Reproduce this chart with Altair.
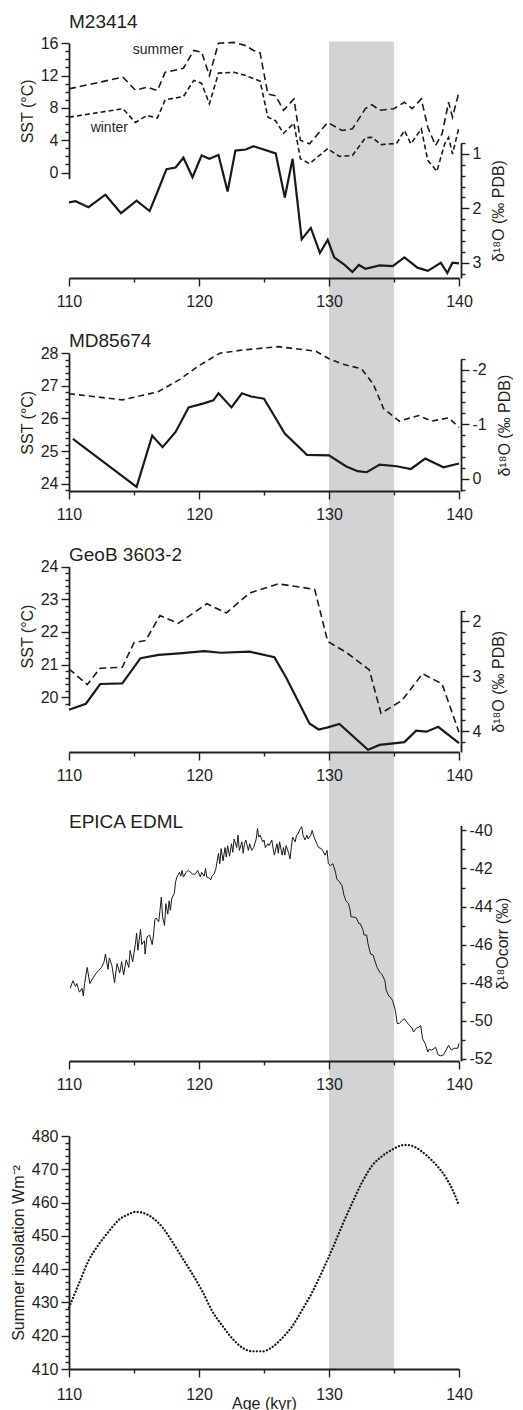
import altair as alt
import pandas as pd

# ---------------- data ----------------
X_TICKS = [110, 115, 120, 125, 130, 135, 140]
BAND = [130, 135]

# M23414
P1_SUMMER_AGE = [110.0, 114.15, 115.1, 116.0, 116.8, 117.4, 118.8, 119.6, 120.2, 120.8, 121.5, 122.7, 123.6,
                 124.2, 124.7, 125.3, 125.9, 126.5, 127.3, 127.8, 128.5, 129.9, 131.0, 131.8, 132.8, 133.3,
                 133.9, 135.0, 135.8, 136.4, 137.1, 137.6, 138.2, 138.7, 139.2, 139.5, 140.0]
P1_SUMMER_SST = [10.35, 11.8, 10.2, 10.55, 10.15, 12.4, 12.9, 15.1, 14.9, 12.0, 16.0, 16.1, 15.7,
                 15.1, 14.8, 9.7, 9.5, 7.7, 9.1, 4.0, 3.55, 6.2, 5.2, 5.4, 7.9, 8.4,
                 7.7, 7.9, 8.7, 7.9, 9.1, 5.6, 3.35, 4.8, 8.7, 6.85, 9.95]
P1_WINTER_AGE = [110.0, 114.15, 115.1, 116.0, 116.8, 117.4, 118.8, 119.6, 120.2, 120.8, 121.5, 122.7, 123.6,
                 124.7, 125.3, 125.9, 126.5, 127.3, 127.8, 128.5, 129.9, 130.8, 131.8, 132.8, 133.3, 134.0,
                 135.2, 135.8, 136.3, 137.1, 137.6, 138.3, 138.9, 139.2, 139.5, 140.0]
P1_WINTER_SST = [6.85, 7.9, 6.2, 7.05, 6.75, 9.0, 9.4, 11.4, 11.05, 8.5, 12.3, 12.4, 12.0,
                 11.3, 6.85, 6.4, 4.85, 6.1, 1.7, 1.1, 2.95, 2.0, 2.1, 4.3, 4.35, 3.45,
                 3.6, 5.2, 3.55, 5.4, 1.5, 0.15, 3.55, 4.35, 2.3, 5.6]
P1_D18O_AGE = [110.0, 110.5, 111.5, 112.8, 114.0, 115.2, 116.2, 116.8, 117.5, 118.2, 118.8, 119.5, 120.2,
               120.8, 121.5, 122.2, 122.8, 123.6, 124.2, 125.9, 126.6, 127.2, 127.9, 128.6, 129.3, 129.9,
               130.4, 131.2, 131.8, 132.3, 132.8, 133.9, 134.9, 135.8, 136.8, 137.6, 138.6, 139.1, 139.5, 140.0]
P1_D18O = [1.89, 1.87, 1.98, 1.75, 2.09, 1.86, 2.05, 1.70, 1.28, 1.25, 1.07, 1.43, 1.03,
           1.09, 1.02, 1.69, 0.94, 0.92, 0.86, 0.99, 1.80, 1.09, 2.57, 2.36, 2.82, 2.58,
           2.90, 3.04, 3.17, 3.04, 3.11, 3.05, 3.06, 2.90, 3.09, 3.15, 3.0, 3.19, 3.0, 3.01]
P1_LABELS = ["summer", "winter"]
P1_LABEL_AGE = [116.85, 113.1]
P1_LABEL_SST = [15.2, 5.57]

# MD85674
P2_SST_AGE = [110.0, 114.1, 116.8, 118.5, 120.0, 121.6, 123.4, 126.1, 129.0, 130.0, 131.1, 132.5, 133.4,
              134.2, 135.4, 136.9, 137.9, 139.2, 140.0]
P2_SST = [26.76, 26.57, 26.81, 27.19, 27.62, 28.0, 28.1, 28.2, 28.06, 27.83, 27.66, 27.52, 27.06,
          26.30, 25.92, 26.09, 25.92, 26.02, 25.73]
P2_D18O_AGE = [110.3, 115.2, 116.4, 117.2, 118.2, 119.2, 120.3, 121.1, 121.5, 122.5, 123.3, 124.0, 125.0,
               126.6, 128.3, 130.0, 131.3, 132.2, 132.9, 133.9, 135.2, 136.3, 137.4, 138.8, 140.0]
P2_D18O = [-0.73, 0.15, -0.79, -0.58, -0.86, -1.31, -1.38, -1.44, -1.57, -1.31, -1.57, -1.51, -1.47,
           -0.83, -0.44, -0.43, -0.23, -0.14, -0.12, -0.26, -0.23, -0.18, -0.37, -0.21, -0.28]

# GeoB 3603-2
P3_SST_AGE = [110.0, 111.4, 112.4, 114.1, 115.0, 115.9, 117.0, 118.4, 120.6, 122.1, 123.9, 126.1, 128.9,
              129.9, 131.3, 133.1, 134.0, 135.6, 137.2, 138.7, 140.0]
P3_SST = [20.87, 20.39, 20.89, 20.92, 21.67, 21.74, 22.5, 22.26, 22.86, 22.58, 23.19, 23.47, 23.30,
          21.71, 21.38, 20.84, 19.51, 19.9, 20.72, 20.41, 18.93]
P3_D18O_AGE = [110.0, 111.3, 112.4, 114.1, 115.5, 116.9, 118.5, 120.4, 121.7, 123.9, 125.8, 126.7, 128.5,
               129.2, 129.9, 130.8, 133.0, 133.9, 135.8, 136.7, 137.5, 138.4, 140.0]
P3_D18O = [3.61, 3.50, 3.14, 3.13, 2.67, 2.61, 2.58, 2.54, 2.57, 2.55, 2.65, 3.02, 3.86,
           3.97, 3.93, 3.87, 4.34, 4.25, 4.20, 3.99, 4.01, 3.92, 4.22]

# EPICA EDML
EDML_AGE = [110.1, 110.3, 110.5, 110.6, 110.8, 111.0, 111.1, 111.2, 111.4, 111.6, 111.8, 112.1, 112.3,
            112.5, 112.7, 112.8, 113.0, 113.1, 113.3, 113.5, 113.7, 113.9, 114.05, 114.2, 114.4, 114.6,
            114.7, 114.9, 115.1, 115.2, 115.3, 115.5, 115.6, 115.8, 115.85, 116.0, 116.2, 116.4, 116.5,
            116.6, 116.7, 116.9, 117.0, 117.1, 117.2, 117.35, 117.45, 117.6, 117.7, 117.8, 117.9, 118.1,
            118.2, 118.3, 118.5, 118.6, 118.7, 118.8, 119.0, 119.2, 119.5, 119.7, 119.9, 120.1, 120.2,
            120.4, 120.5, 120.6, 120.8, 120.9, 121.0, 121.15, 121.3, 121.4, 121.5, 121.6, 121.7, 121.85,
            122.0, 122.1, 122.2, 122.35, 122.5, 122.6, 122.7, 122.9, 123.0, 123.1, 123.3, 123.4, 123.5,
            123.6, 123.8, 123.9, 124.05, 124.2, 124.4, 124.5, 124.6, 124.7, 124.9, 125.0, 125.1, 125.3,
            125.4, 125.6, 125.7, 125.8, 126.0, 126.1, 126.2, 126.4, 126.5, 126.6, 126.7, 126.9, 127.0,
            127.1, 127.2, 127.4, 127.5, 127.6, 127.8, 127.9, 128.0, 128.15, 128.3, 128.4, 128.6, 128.7,
            128.85, 129.0, 129.2, 129.4, 129.5, 129.7, 129.85, 129.95, 130.1, 130.3, 130.5, 130.6, 130.8,
            131.0, 131.15, 131.3, 131.5, 131.6, 131.7, 131.9, 132.1, 132.3, 132.4, 132.6, 132.7, 132.9,
            133.0, 133.2, 133.4, 133.5, 133.7, 133.9, 134.1, 134.3, 134.4, 134.6, 134.7, 134.9, 135.1,
            135.25, 135.4, 135.6, 135.8, 136.0, 136.2, 136.4, 136.5, 136.7, 136.9, 137.05, 137.2, 137.4,
            137.6, 137.7, 137.9, 138.2, 138.4, 138.6, 138.8, 139.0, 139.2, 139.4, 139.6, 139.9, 140.0]
EDML_D18O = [-48.3, -47.9, -48.2, -48.05, -48.5, -48.3, -48.7, -48.05, -47.2, -48.05, -47.8, -47.5, -47.35,
             -47.2, -46.9, -46.5, -47.3, -46.7, -47.1, -48.0, -47.0, -47.5, -46.9, -47.6, -46.8, -47.2,
             -46.3, -46.9, -46.0, -45.4, -46.3, -45.2, -46.0, -45.8, -46.5, -45.6, -45.5, -46.0, -45.5,
             -44.7, -44.6, -44.8, -44.2, -43.5, -44.55, -45.0, -43.85, -44.4, -43.7, -44.2, -43.6, -43.3,
             -42.7, -42.45, -42.2, -42.4, -42.1, -42.45, -42.2, -42.1, -42.3, -42.3, -42.1, -42.45, -42.2,
             -42.4, -42.0, -42.45, -42.5, -42.6, -42.4, -42.3, -42.0, -41.6, -41.2, -41.75, -40.95, -41.6,
             -40.9, -41.4, -40.8, -41.35, -40.7, -41.15, -40.45, -40.9, -40.25, -41.05, -40.6, -41.2, -40.7,
             -40.5, -41.05, -40.7, -41.05, -40.9, -40.45, -39.9, -40.35, -40.25, -40.6, -40.5, -40.9, -40.7,
             -40.8, -40.5, -40.95, -41.3, -40.7, -41.2, -40.6, -41.3, -40.9, -41.3, -40.8, -41.2, -41.5,
             -40.9, -40.35, -40.6, -40.25, -40.2, -39.9, -39.8, -40.25, -40.5, -40.25, -40.45, -40.25, -40.0,
             -40.35, -40.6, -40.9, -40.95, -41.05, -41.3, -41.05, -41.75, -41.85, -41.75, -42.2, -42.55, -42.7,
             -42.9, -43.4, -43.7, -43.85, -44.1, -44.55, -44.55, -44.6, -44.9, -44.9, -45.2, -45.5, -45.5,
             -45.95, -46.5, -46.55, -46.8, -47.2, -47.45, -47.6, -47.9, -48.4, -48.7, -48.75, -48.95, -49.45,
             -50.15, -50.15, -50.0, -49.9, -50.1, -50.25, -50.4, -50.6, -50.4, -50.35, -50.25, -50.95, -51.2,
             -51.65, -51.5, -51.55, -51.4, -51.8, -51.85, -51.8, -51.55, -51.3, -51.55, -51.45, -51.45, -51.2]

# Summer insolation
INSOL_AGE = [110.0, 110.8, 111.5, 112.3, 113.1, 113.8, 114.6, 115.1, 115.6, 116.4, 117.2, 117.9, 118.7,
             119.5, 120.3, 121.0, 121.8, 122.6, 123.3, 124.1, 124.9, 125.6, 126.4, 127.2, 127.9, 128.7,
             129.5, 130.3, 131.0, 131.8, 132.6, 133.3, 134.1, 134.9, 135.6, 136.0, 136.7, 137.4, 138.2,
             139.0, 139.6, 140.0]
INSOL = [428.5, 436, 442.5, 447.5, 451.5, 454.7, 456.5, 457.2, 457, 455.5, 452.5, 448.5, 443.5,
         438.5, 433, 427.5, 423, 419, 416.5, 415.3, 415.3, 416.5, 419.3, 423, 427.5, 433,
         439.5, 446.5, 453, 460, 466.5, 471, 474, 476, 477.2, 477.3, 476.5, 474.5, 471.5,
         467.5, 463, 459]

# axis tick values (labels shown only at the major ones)
P1_SST_TICKS = list(range(0, 17))
P1_D18O_TICKS = [round(0.8 + 0.2 * i, 1) for i in range(13)]
P2_SST_TICKS = [round(23.8 + 0.2 * i, 1) for i in range(22)]
P2_D18O_TICKS = [round(-2.2 + 0.2 * i, 1) for i in range(13)]
P3_SST_TICKS = [round(19.8 + 0.2 * i, 1) for i in range(22)]
P3_D18O_TICKS = [round(1.8 + 0.2 * i, 1) for i in range(13)]
P4_TICKS = list(range(-52, -39))
P5_TICKS = list(range(410, 481, 2))

# ---------------- style ----------------
FONT = "Liberation Sans"
INK = "#231f20"
LINE = "#1a1a1a"
BAND_COLOR = "#d1d3d4"
W = 390
GAP = 75
H1, H2, H3, H4, H5 = 236, 138, 186, 234, 233

XSCALE = alt.Scale(domain=[110, 140], nice=False, zero=False)
INT_TEST = "abs(datum.value - round(datum.value)) < 0.01"


def tick_size(test, major=8, minor=4):
    return {"condition": {"test": test, "value": major}, "value": minor}


def x_axis(label_pad=7, title_pad=0):
    return alt.Axis(values=X_TICKS,
                    labelExpr="datum.value % 10 === 0 ? '' + datum.value : ''",
                    tickSize=tick_size("datum.value % 10 === 0"),
                    labelPadding=label_pad, labelFlush=False, labelOverlap=False,
                    titlePadding=title_pad, grid=False, zindex=2)


def xenc(field, title=None, label_pad=7, title_pad=0):
    return alt.X(field, scale=XSCALE, axis=x_axis(label_pad, title_pad), title=title)


def y_axis(orient, values, test, title, title_pad, offset=0, major=8, minor=4):
    kw = dict(orient=orient, values=values,
              labelExpr=f"({test}) ? '' + round(datum.value) : ''",
              tickSize=tick_size(test, major, minor), labelPadding=3, labelOverlap=False,
              labelFlush=False, grid=False, title=title, titleAngle=270,
              titlePadding=title_pad, offset=offset, zindex=2)
    if orient == "right":
        kw["titleBaseline"] = "top"
    return alt.Axis(**kw)


def band(extra, **xkw):
    df = pd.DataFrame({"start": [BAND[0]], "end": [BAND[1]]})
    return alt.Chart(df).mark_rect(color=BAND_COLOR, clip=False).encode(
        x=xenc("start:Q", **xkw), x2="end:Q", y=alt.value(-0.5), y2=alt.value(extra))


def line(df, yfield, scale, axis, dash=None, width=2.0, **kw):
    mk = dict(color=LINE, strokeWidth=width)
    if dash:
        mk["strokeDash"] = dash
    mk.update(kw)
    return alt.Chart(df).mark_line(**mk).encode(
        x=xenc("age:Q"), y=alt.Y(yfield, scale=scale, axis=axis))


def title(text, dy):
    return alt.TitleParams(text, anchor="start", frame="group", fontSize=19, font=FONT,
                           fontWeight="normal", color=INK, offset=0, dy=dy)


# ---------------- panel 1: M23414 ----------------
p1_sst_scale = alt.Scale(domain=[-0.75, 16], range=[136.6, 1.2], nice=False, zero=False)
p1_sst_axis = y_axis("left", P1_SST_TICKS, "datum.value % 4 === 0", "SST (°C)", 5)
p1_d_scale = alt.Scale(domain=[0.8, 3.28], range=[101, 236], nice=False, zero=False)
p1_d_axis = y_axis("right", P1_D18O_TICKS, INT_TEST, "δ¹⁸O (‰ PDB)", 10, offset=2)

p1_summer = line(pd.DataFrame({"age": P1_SUMMER_AGE, "sst": P1_SUMMER_SST}), "sst:Q",
                 p1_sst_scale, p1_sst_axis, dash=[7, 4], width=1.6)
p1_winter = line(pd.DataFrame({"age": P1_WINTER_AGE, "sst": P1_WINTER_SST}), "sst:Q",
                 p1_sst_scale, p1_sst_axis, dash=[5, 3], width=1.6)
p1_text = alt.Chart(pd.DataFrame({"age": P1_LABEL_AGE, "sst": P1_LABEL_SST, "label": P1_LABELS})).mark_text(
    font=FONT, fontSize=14, color=INK, align="center", baseline="middle").encode(
    x=xenc("age:Q"), y=alt.Y("sst:Q", scale=p1_sst_scale, axis=p1_sst_axis), text="label:N")
p1_d = line(pd.DataFrame({"age": P1_D18O_AGE, "d": P1_D18O}), "d:Q", p1_d_scale, p1_d_axis, width=2.2)

p1 = alt.layer(band(H1 + GAP), alt.layer(p1_summer, p1_winter, p1_text), p1_d).resolve_scale(
    y="independent").properties(width=W, height=H1, title=title("M23414", -3))

# ---------------- panel 2: MD85674 ----------------
p2_sst_scale = alt.Scale(domain=[23.77, 28], range=[138.3, 0.2], nice=False, zero=False)
p2_sst_axis = y_axis("left", P2_SST_TICKS, INT_TEST, "SST (°C)", 5)
p2_d_scale = alt.Scale(domain=[-2.2, 0.23], range=[5.9, 138.3], nice=False, zero=False)
p2_d_axis = y_axis("right", P2_D18O_TICKS, INT_TEST, "δ¹⁸O (‰ PDB)", 10, offset=2)
p2_sst = line(pd.DataFrame({"age": P2_SST_AGE, "sst": P2_SST}), "sst:Q", p2_sst_scale, p2_sst_axis,
              dash=[6, 4], width=1.6)
p2_d = line(pd.DataFrame({"age": P2_D18O_AGE, "d": P2_D18O}), "d:Q", p2_d_scale, p2_d_axis, width=2.2)
p2 = alt.layer(band(H2 + GAP), p2_sst, p2_d).resolve_scale(y="independent").properties(
    width=W, height=H2, title=title("MD85674", 7.3))

# ---------------- panel 3: GeoB 3603-2 ----------------
p3_sst_scale = alt.Scale(domain=[19.75, 24], range=[139.5, 0.5], nice=False, zero=False)
p3_sst_axis = y_axis("left", P3_SST_TICKS, INT_TEST, "SST (°C)", 5)
p3_d_scale = alt.Scale(domain=[1.8, 4.38], range=[44.5, 186], nice=False, zero=False)
p3_d_axis = y_axis("right", P3_D18O_TICKS, INT_TEST, "δ¹⁸O (‰ PDB)", 10, offset=2)
p3_sst = line(pd.DataFrame({"age": P3_SST_AGE, "sst": P3_SST}), "sst:Q", p3_sst_scale, p3_sst_axis,
              dash=[7, 4], width=1.6)
p3_d = line(pd.DataFrame({"age": P3_D18O_AGE, "d": P3_D18O}), "d:Q", p3_d_scale, p3_d_axis, width=2.2)
p3 = alt.layer(band(H3 + GAP), p3_sst, p3_d).resolve_scale(y="independent").properties(
    width=W, height=H3, title=title("GeoB 3603-2", 6))

# ---------------- panel 4: EPICA EDML ----------------
p4_scale = alt.Scale(domain=[-52.12, -39.74], range=[234, -1.5], nice=False, zero=False)
p4_axis = y_axis("right", P4_TICKS, "datum.value % 2 === 0", "δ¹⁸Ocorr (‰)", 2, offset=2, major=5, minor=4)
p4_line = line(pd.DataFrame({"age": EDML_AGE, "d": EDML_D18O}), "d:Q", p4_scale, p4_axis, width=1.0)
p4 = alt.layer(band(H4 + GAP), p4_line).properties(width=W, height=H4, title=title("EPICA EDML", 9.7))

# ---------------- panel 5: insolation ----------------
p5_scale = alt.Scale(domain=[410, 480], range=[H5, 0], nice=False, zero=False)
p5_axis = y_axis("left", P5_TICKS, "datum.value % 10 === 0", "Summer insolation Wm⁻²", 5)
p5_band = band(H5, title="Age (kyr)", label_pad=9, title_pad=-7)
p5_line = alt.Chart(pd.DataFrame({"age": INSOL_AGE, "w": INSOL})).mark_line(
    color=LINE, strokeWidth=2.3, strokeDash=[0.1, 3.3], strokeCap="round", interpolate="monotone").encode(
    x=xenc("age:Q", title="Age (kyr)", label_pad=9, title_pad=-7),
    y=alt.Y("w:Q", scale=p5_scale, axis=p5_axis))
p5 = alt.layer(p5_band, p5_line).properties(width=W, height=H5)

chart = alt.vconcat(p1, p2, p3, p4, p5, spacing=GAP, bounds="flush").properties(
    padding={"left": 2, "top": 5, "right": 0, "bottom": 0}
).configure_view(stroke=None).configure_axis(
    domainColor=INK, domainWidth=1.8, tickColor=INK, tickWidth=1.4,
    labelFont=FONT, labelFontSize=16, labelColor=INK,
    titleFont=FONT, titleFontSize=16, titleFontWeight="normal", titleColor=INK
)

chart.save("out.html", embed_options={"renderer": "svg", "actions": False})
